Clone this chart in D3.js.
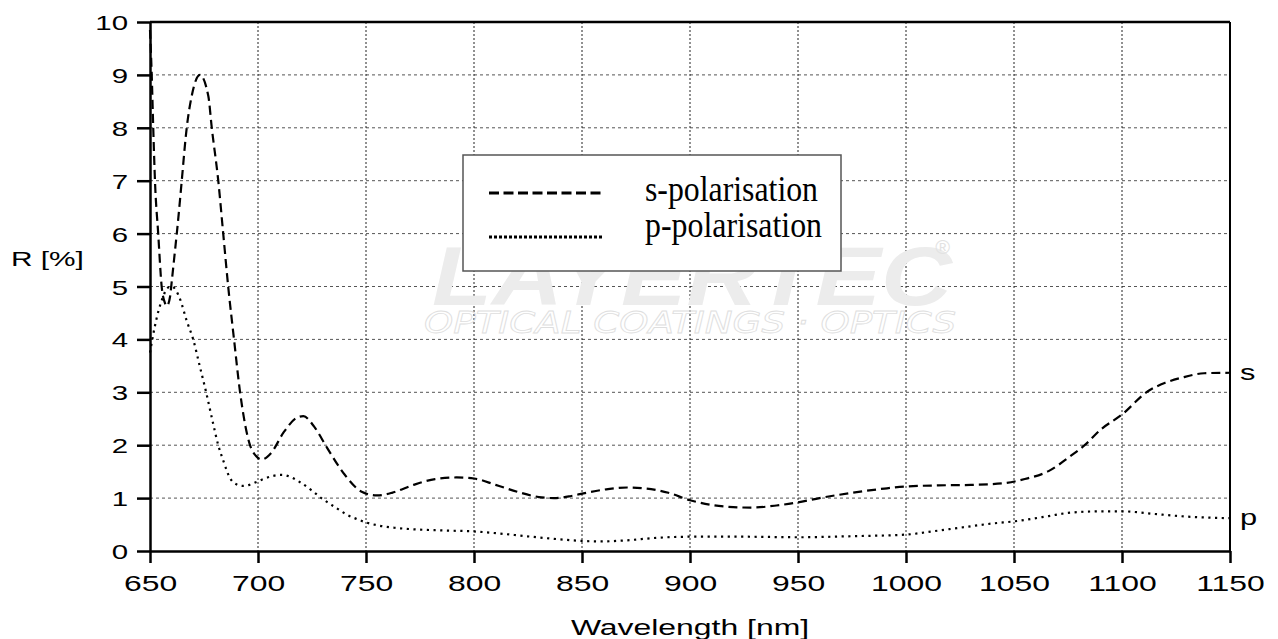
<!DOCTYPE html>
<html>
<head>
<meta charset="utf-8">
<script src="https://cdn.jsdelivr.net/npm/d3@7"></script>
<style>
  body { margin: 0; background: #fff; }
  svg text { font-family: "Liberation Sans", Arial, sans-serif; fill: #000; }
</style>
</head>
<body>
<svg id="chart" width="1278" height="639"></svg>
<script>
// wavelength [nm] / reflectance [%]
const sWave = [650, 650.8, 651.5, 652.3, 653.8, 655.4, 656.9, 657.8, 659.3, 660, 661.6, 662.4, 663.9, 664.7, 667, 669.3, 673.1, 677, 678.6, 681.6, 683.9, 686.2, 688.9, 691.7, 696.3, 699, 701.7, 706, 712, 718, 721, 726, 732, 740, 748, 755, 762, 772, 782, 792, 800, 810, 820, 830, 837, 845, 852, 862, 871, 880, 890, 900, 910, 920, 928, 940, 950, 960, 975, 990, 1000, 1015, 1030, 1045, 1055, 1066, 1076, 1083, 1090, 1100, 1112, 1120, 1128, 1138, 1150];
const sVals = [9.85, 9.0, 8.0, 7.0, 6.0, 5.0, 4.69, 4.63, 4.81, 5.07, 5.69, 6.0, 6.64, 7.0, 8.0, 8.6, 9.0, 8.6, 8.0, 7.0, 6.0, 5.0, 4.0, 3.0, 2.0, 1.8, 1.73, 1.85, 2.25, 2.52, 2.55, 2.35, 1.95, 1.45, 1.12, 1.05, 1.1, 1.25, 1.36, 1.39, 1.37, 1.25, 1.12, 1.02, 1.0, 1.04, 1.1, 1.17, 1.2, 1.18, 1.1, 0.96, 0.87, 0.83, 0.82, 0.86, 0.92, 1.0, 1.1, 1.18, 1.22, 1.24, 1.25, 1.28, 1.36, 1.51, 1.79, 2.01, 2.29, 2.58, 3.02, 3.18, 3.28, 3.36, 3.37];

const pWave = [650, 652, 654, 656, 658, 660, 662, 664, 667, 670, 673, 676, 679, 681.6, 684, 687, 690, 693, 696, 699, 702.5, 707, 711, 715, 719.5, 725, 730, 736, 741, 746, 750, 756, 763, 772, 784, 800, 812, 824, 837, 850, 858, 870, 885, 900, 925, 950, 975, 1000, 1012, 1025, 1040, 1050, 1066, 1075, 1090, 1100, 1115, 1130, 1150];
const pVals = [3.75, 4.2, 4.55, 4.8, 4.97, 5.0, 4.93, 4.75, 4.35, 4.0, 3.5, 3.0, 2.45, 2.0, 1.7, 1.38, 1.26, 1.23, 1.25, 1.3, 1.36, 1.42, 1.44, 1.4, 1.3, 1.14, 0.98, 0.82, 0.69, 0.6, 0.54, 0.48, 0.44, 0.41, 0.39, 0.37, 0.33, 0.28, 0.23, 0.19, 0.18, 0.2, 0.25, 0.27, 0.27, 0.26, 0.28, 0.31, 0.37, 0.44, 0.52, 0.56, 0.66, 0.72, 0.75, 0.75, 0.7, 0.65, 0.62];

const xTicks = [650, 700, 750, 800, 850, 900, 950, 1000, 1050, 1100, 1150];
const yTicks = [0, 1, 2, 3, 4, 5, 6, 7, 8, 9, 10];
const legendNames = ["s-polarisation", "p-polarisation"];

const svg = d3.select("#chart");
const margin = { top: 22, right: 48, bottom: 88, left: 150 };
const width = +svg.attr("width");
const height = +svg.attr("height");
const plotWidth = width - margin.left - margin.right;
const plotHeight = height - margin.top - margin.bottom;

const x = d3.scaleLinear().domain([650, 1150]).range([0, plotWidth]);
const y = d3.scaleLinear().domain([0, 10]).range([plotHeight, 0]);

const g = svg.append("g").attr("transform", `translate(${margin.left}, ${margin.top})`);

// the texts in the picture are drawn wider than the font
function stretch(sel, k) {
  sel.each(function() {
    const w = this.getComputedTextLength();
    d3.select(this).attr("textLength", w * k).attr("lengthAdjust", "spacingAndGlyphs");
  });
}

// watermark
const wm = svg.append("g").attr("font-style", "italic");
wm.append("text")
  .attr("x", 432).attr("y", 305)
  .attr("font-size", 84).attr("font-weight", 900)
  .attr("textLength", 520).attr("lengthAdjust", "spacingAndGlyphs")
  .style("fill", "#ececec")
  .text("LAYERTEC");
wm.append("text")
  .attr("x", 935).attr("y", 254)
  .attr("font-size", 20)
  .style("fill", "#e2e2e2")
  .text("®");
wm.append("text")
  .attr("x", 424).attr("y", 333)
  .attr("font-size", 30).attr("font-weight", 300)
  .attr("textLength", 532).attr("lengthAdjust", "spacingAndGlyphs")
  .style("font-family", "DejaVu Sans, sans-serif")
  .style("fill", "none").attr("stroke", "#dedede").attr("stroke-width", 0.8)
  .text("OPTICAL COATINGS · OPTICS");

// grid
g.append("g")
  .selectAll("line")
  .data(yTicks.slice(1, -1))
  .join("line")
  .attr("x1", 0).attr("x2", plotWidth)
  .attr("y1", d => y(d)).attr("y2", d => y(d))
  .attr("stroke", "#555").attr("stroke-width", 1)
  .attr("stroke-dasharray", "3,3");

g.append("g")
  .selectAll("line")
  .data(xTicks.slice(1, -1))
  .join("line")
  .attr("x1", d => x(d)).attr("x2", d => x(d))
  .attr("y1", 0).attr("y2", plotHeight)
  .attr("stroke", "#222").attr("stroke-width", 1)
  .attr("stroke-dasharray", "2,2");

// curves
const line = d3.line()
  .x(d => x(d[0]))
  .y(d => y(d[1]))
  .curve(d3.curveMonotoneX);

g.append("path")
  .datum(d3.zip(sWave, sVals))
  .attr("d", line)
  .attr("fill", "none")
  .attr("stroke", "#000")
  .attr("stroke-width", 2.2)
  .attr("stroke-dasharray", "9,5");

g.append("path")
  .datum(d3.zip(pWave, pVals))
  .attr("d", line)
  .attr("fill", "none")
  .attr("stroke", "#000")
  .attr("stroke-width", 2.2)
  .attr("stroke-dasharray", "2.2,4.5");

// curve end labels
const ends = [["s", sVals[sVals.length - 1]], ["p", pVals[pVals.length - 1]]];
g.selectAll(".end-label")
  .data(ends)
  .join("text")
  .attr("class", "end-label")
  .attr("x", plotWidth + 10)
  .attr("y", d => y(d[1]) + 7)
  .attr("font-size", 22)
  .text(d => d[0])
  .call(stretch, 1.4);

// axes
const xAxis = g.append("g")
  .attr("transform", `translate(0, ${plotHeight})`)
  .call(d3.axisBottom(x).tickValues(xTicks).tickFormat(d3.format("d"))
    .tickSize(12).tickSizeOuter(0).tickPadding(12));

const yAxis = g.append("g")
  .call(d3.axisLeft(y).tickValues(yTicks).tickFormat(d3.format("d"))
    .tickSize(13).tickSizeOuter(0).tickPadding(9));

[xAxis, yAxis].forEach(a => {
  a.select(".domain").attr("stroke", "#000").attr("stroke-width", 2.5);
  a.selectAll(".tick line").attr("stroke", "#000").attr("stroke-width", 2.5);
});
yAxis.selectAll(".tick text")
  .attr("font-size", 21)
  .attr("dy", "0.36em")
  .call(stretch, 1.4);
xAxis.selectAll(".tick text")
  .attr("font-size", 22)
  .attr("dy", "0.74em")
  .call(stretch, 1.45);

// frame top and right
g.append("line")
  .attr("x1", 0).attr("x2", plotWidth).attr("y1", 0).attr("y2", 0)
  .attr("stroke", "#000").attr("stroke-width", 2.5);
g.append("line")
  .attr("x1", plotWidth).attr("x2", plotWidth).attr("y1", 0).attr("y2", plotHeight)
  .attr("stroke", "#000").attr("stroke-width", 2);

// axis titles
svg.append("text")
  .attr("x", 11).attr("y", 266)
  .attr("font-size", 21)
  .text("R [%]")
  .call(stretch, 1.42);

svg.append("text")
  .attr("x", margin.left + plotWidth / 2)
  .attr("y", 635)
  .attr("text-anchor", "middle")
  .attr("font-size", 22)
  .text("Wavelength [nm]")
  .call(stretch, 1.45);

// legend
const legend = svg.append("g");
legend.append("rect")
  .attr("x", 463).attr("y", 155)
  .attr("width", 378).attr("height", 116)
  .attr("fill", "#fff")
  .attr("stroke", "#555").attr("stroke-width", 1.5);

const legendRows = [
  { name: legendNames[0], y: 193, dash: "10,4.5", base: 201 },
  { name: legendNames[1], y: 237, dash: "3,2", base: 237 }
];
legend.selectAll(".lg-line")
  .data(legendRows)
  .join("line")
  .attr("class", "lg-line")
  .attr("x1", 489).attr("x2", 603)
  .attr("y1", d => d.y).attr("y2", d => d.y)
  .attr("stroke", "#000").attr("stroke-width", 3)
  .attr("stroke-dasharray", d => d.dash);

legend.selectAll(".lg-text")
  .data(legendRows)
  .join("text")
  .attr("class", "lg-text")
  .attr("x", 645)
  .attr("y", d => d.base)
  .style("font-family", "Liberation Serif, Times New Roman, serif")
  .attr("font-size", 36)
  .attr("textLength", (d, i) => i === 0 ? 173 : 177)
  .attr("lengthAdjust", "spacingAndGlyphs")
  .text(d => d.name);
</script>
</body>
</html>
